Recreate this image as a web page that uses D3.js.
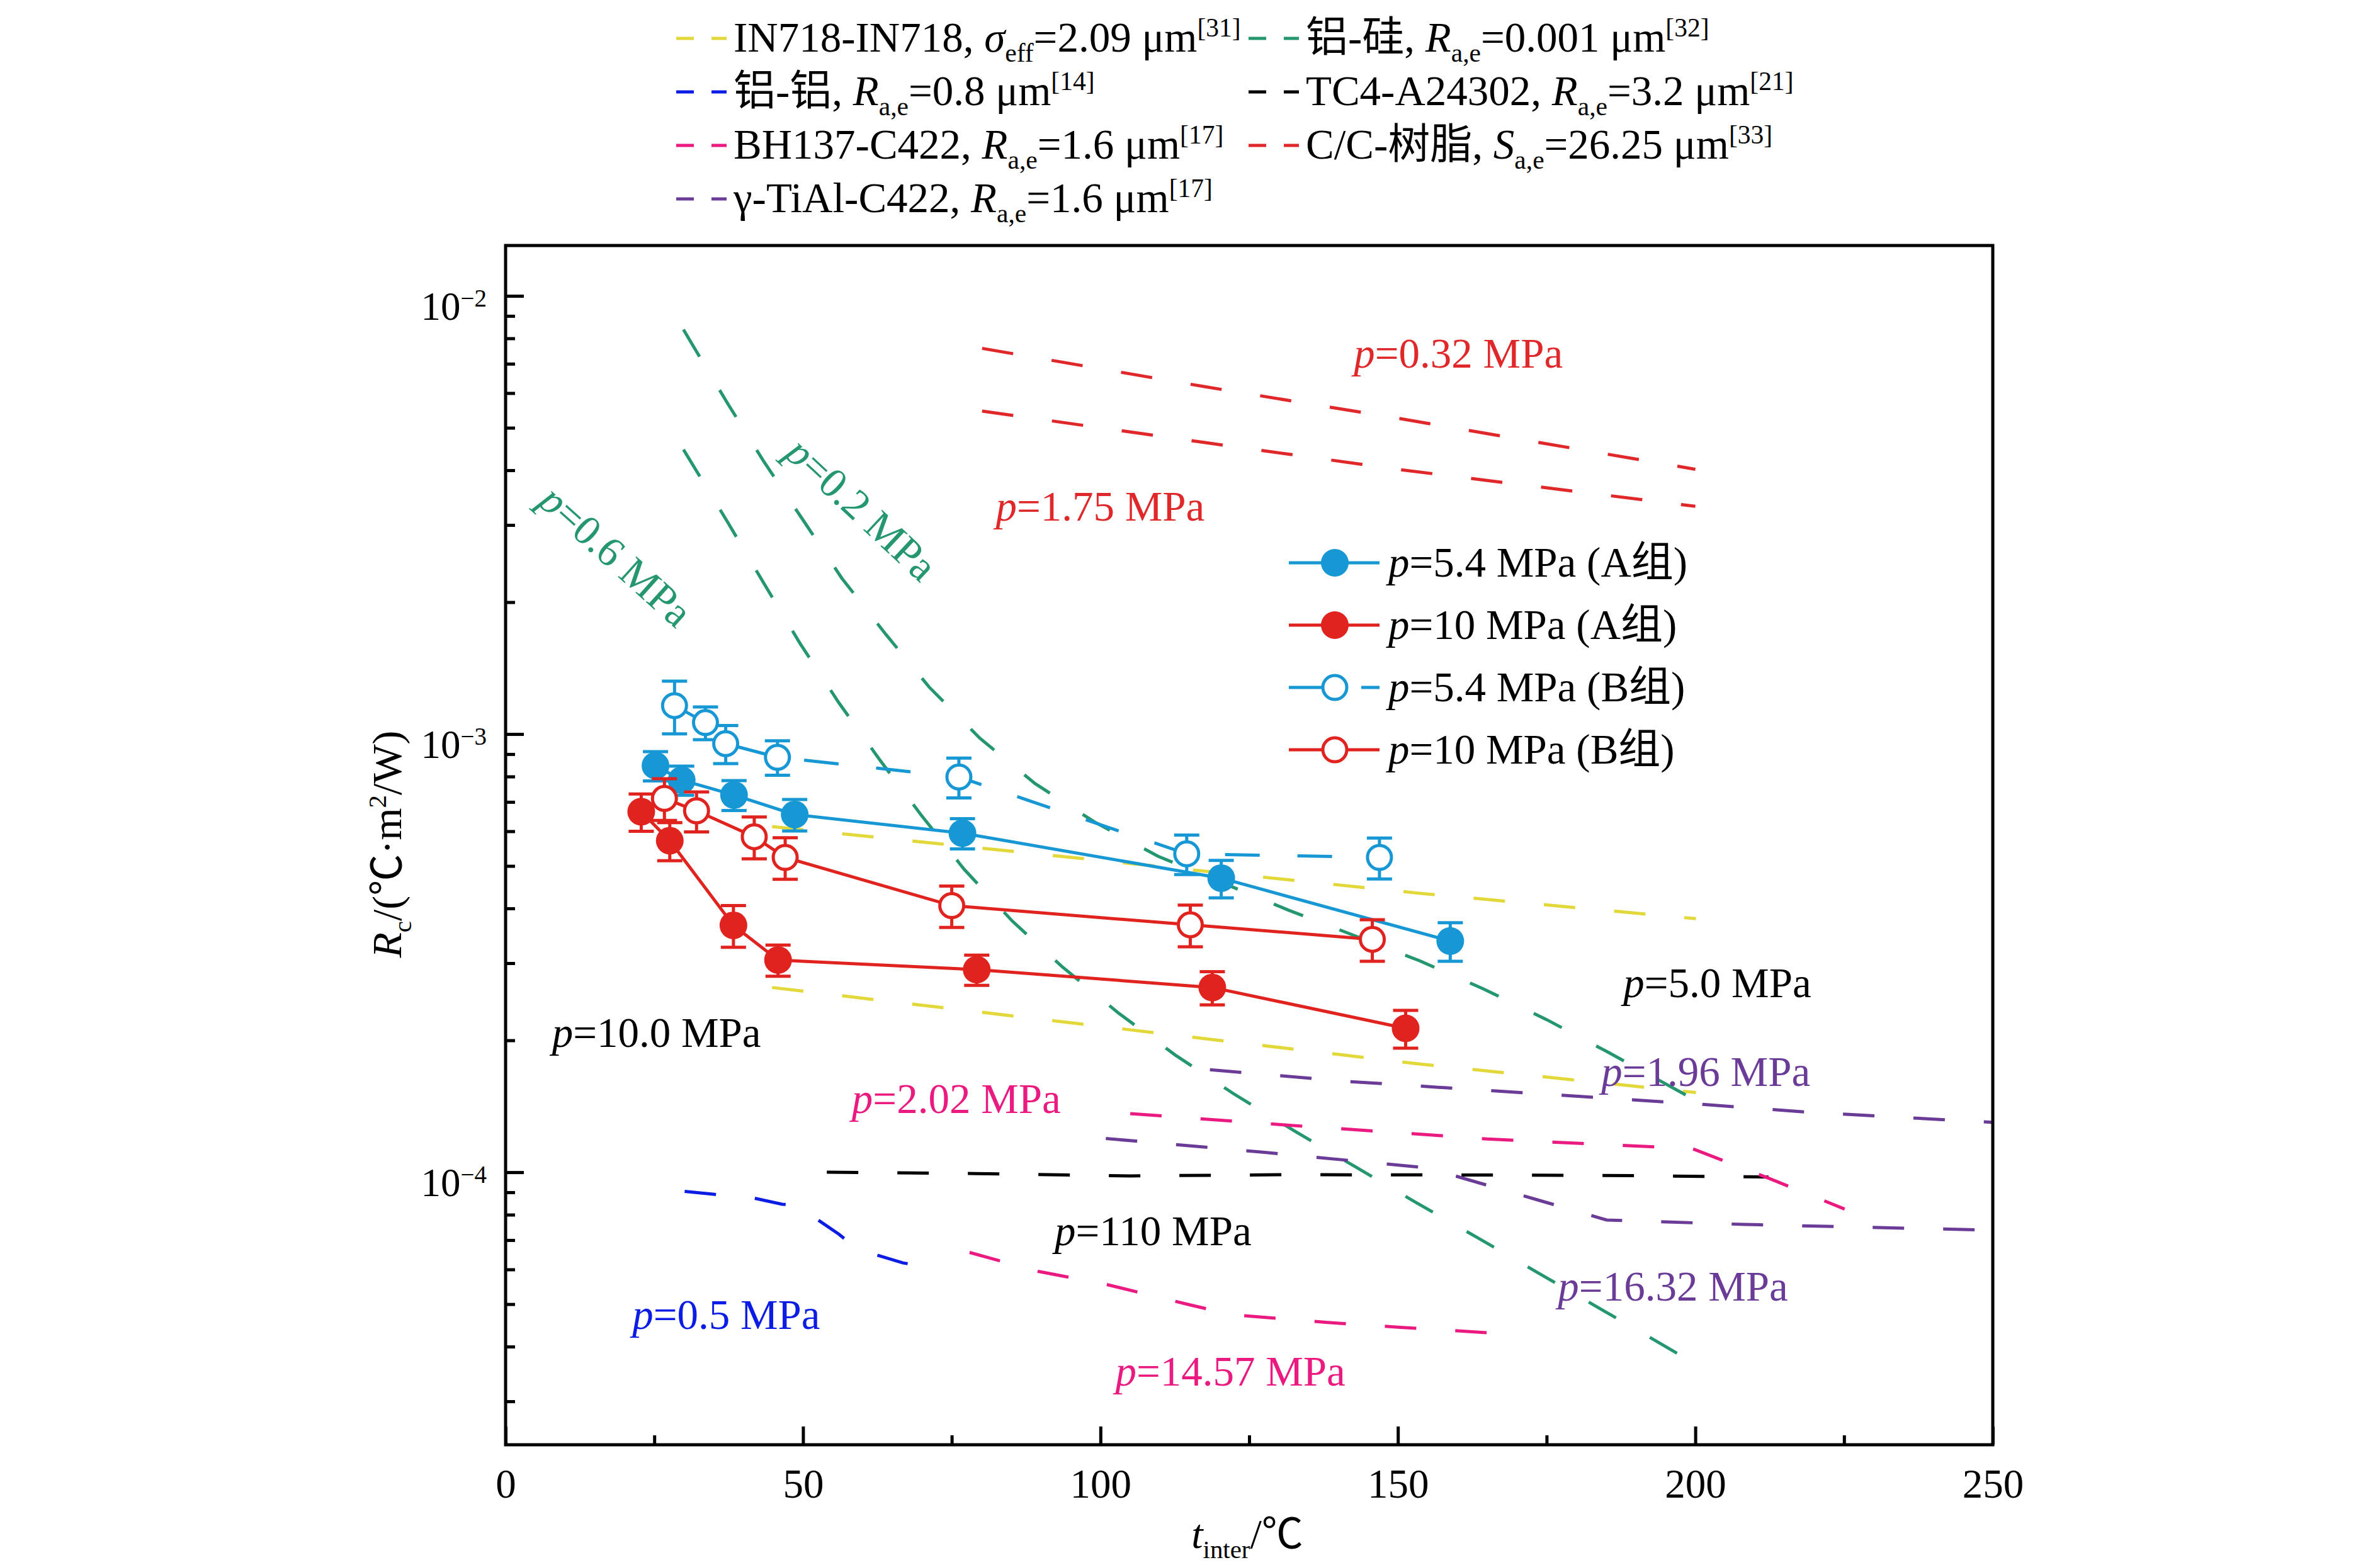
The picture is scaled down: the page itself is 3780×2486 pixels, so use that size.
<!DOCTYPE html>
<html>
<head>
<meta charset="utf-8">
<script src="https://cdn.jsdelivr.net/npm/d3@7"></script>
<style>
  html, body { margin: 0; padding: 0; background: #fff; }
  svg { display: block; font-family: "Liberation Serif", "Times New Roman", "Noto Sans CJK SC", serif; }
</style>
</head>
<body>
<svg id="chart" width="3780" height="2486"></svg>
<script>
// ---- experimental data (t_inter in degC, Rc in degC*m2/W) ----
var tA54 = [25.2, 29.6, 38.4, 48.6, 76.8, 120.3, 158.8];
var rA54 = [8.47e-4, 7.85e-4, 7.26e-4, 6.55e-4, 5.94e-4, 4.69e-4, 3.37e-4];
var eA54 = [0.65e-4, 0.60e-4, 0.57e-4, 0.54e-4, 0.47e-4, 0.46e-4, 0.34e-4];

var tA10 = [22.8, 27.6, 38.3, 45.8, 79.2, 118.8, 151.3];
var rA10 = [6.65e-4, 5.71e-4, 3.66e-4, 3.05e-4, 2.90e-4, 2.64e-4, 2.13e-4];
var eA10 = [0.65e-4, 0.57e-4, 0.40e-4, 0.25e-4, 0.23e-4, 0.23e-4, 0.21e-4];

var tB54 = [28.4, 33.6, 37.0, 45.7, 76.2, 114.5, 146.9];
var rB54 = [1.161e-3, 1.062e-3, 9.51e-4, 8.85e-4, 7.98e-4, 5.33e-4, 5.23e-4];
var eB54 = [1.60e-4, 0.91e-4, 0.95e-4, 0.80e-4, 0.83e-4, 0.55e-4, 0.56e-4];

var tB10 = [26.7, 32.1, 41.8, 47.0, 75.0, 115.1, 145.7];
var rB10 = [7.13e-4, 6.68e-4, 5.83e-4, 5.23e-4, 4.06e-4, 3.67e-4, 3.40e-4];
var eB10 = [0.78e-4, 0.70e-4, 0.64e-4, 0.57e-4, 0.44e-4, 0.40e-4, 0.37e-4];

// ---- literature curves ----
var in718T = [44.8, 153.0, 200.1];
var in718R50 = [6.15e-4, 4.34e-4, 3.79e-4];
var in718R100 = [2.64e-4, 1.77e-4, 1.52e-4];

var alsi02T = [29.9, 31.2, 37.3, 43.4, 50.0, 56.5, 63.9, 71.2, 79.7, 89.0, 99.0, 109.7, 131.5, 153.6, 164.4, 175.0, 185.3, 200.0];
var alsi02R = [8.38e-3, 7.82e-3, 5.69e-3, 4.19e-3, 3.08e-3, 2.27e-3, 1.69e-3, 1.28e-3, 9.79e-4, 7.71e-4, 6.30e-4, 5.26e-4, 3.97e-4, 3.04e-4, 2.62e-4, 2.23e-4, 1.88e-4, 1.46e-4];
var alsi06T = [29.9, 37.3, 43.4, 49.5, 56.0, 62.8, 69.8, 77.1, 85.2, 93.5, 103.0, 112.6, 122.4, 132.5, 142.8, 152.9, 163.3, 173.6, 183.9, 194.2, 200.0];
var alsi06R = [4.46e-3, 3.05e-3, 2.21e-3, 1.61e-3, 1.18e-3, 8.77e-4, 6.55e-4, 4.91e-4, 3.74e-4, 2.95e-4, 2.31e-4, 1.85e-4, 1.51e-4, 1.245e-4, 1.03e-4, 8.55e-5, 7.10e-5, 5.89e-5, 4.89e-5, 4.06e-5, 3.65e-5];

var alalT = [30.1, 34.9, 41.7, 46.5, 50.0, 52.0, 56.1, 60.1, 62.1, 66.8, 70.1];
var alalR = [9.04e-5, 8.91e-5, 8.73e-5, 8.45e-5, 8.41e-5, 7.87e-5, 7.21e-5, 6.50e-5, 6.49e-5, 6.21e-5, 6.10e-5];

var tc4T = [54.0, 79.0, 105.0, 130.0, 160.0, 190.0, 212.3];
var tc4R = [1.000e-4, 0.993e-4, 0.981e-4, 0.987e-4, 0.986e-4, 0.982e-4, 0.975e-4];

var bh202T = [105.0, 131.0, 154.6, 165.0, 199.5, 212.4, 225.1];
var bh202R = [1.361e-4, 1.282e-4, 1.219e-4, 1.191e-4, 1.132e-4, 9.68e-5, 8.24e-5];
var bh1457T = [78.0, 89.5, 100.9, 114.8, 122.0, 138.2, 150.0, 169.0];
var bh1457R = [6.56e-5, 5.94e-5, 5.55e-5, 4.99e-5, 4.73e-5, 4.54e-5, 4.43e-5, 4.27e-5];

var cc032T = [80.1, 117.4, 149.9, 200.0];
var cc032R = [7.59e-3, 6.21e-3, 5.26e-3, 4.02e-3];
var cc175T = [80.1, 117.4, 149.9, 200.0];
var cc175R = [5.46e-3, 4.63e-3, 4.02e-3, 3.31e-3];

var ti196T = [118.4, 141.7, 200.0, 220.0, 249.8];
var ti196R = [1.714e-4, 1.611e-4, 1.432e-4, 1.368e-4, 1.300e-4];
var ti1632T = [100.9, 127.0, 155.0, 173.2, 185.1, 208.3, 249.0];
var ti1632R = [1.194e-4, 1.112e-4, 1.023e-4, 8.67e-5, 7.78e-5, 7.60e-5, 7.38e-5];

var xMajor = [0, 50, 100, 150, 200, 250];
var xMinor = [25, 75, 125, 175, 225];
var yMajor = [1e-2, 1e-3, 1e-4];

// ---- colours ----
var EXP_BLUE = "#1798d5", EXP_RED = "#e0231e";
var YELLOW = "#e2d83a", GREEN = "#25976f", AL_BLUE = "#0b1de4", MAGENTA = "#eb1a80", CC_RED = "#e0282b", PURPLE = "#6a3b97";

var FS = 67; // annotation / legend text size

var svg = d3.select("#chart");
var x = d3.scaleLinear().domain([0, 250]).range([803, 3165]);
var y = d3.scaleLog().domain([2.388e-5, 1.303e-2]).range([2295, 390]);

svg.append("defs").append("clipPath").attr("id", "clip")
  .append("rect").attr("x", 803).attr("y", 390).attr("width", 3165 - 803).attr("height", 2295 - 390);

function rich(sel, parts, size) {
  var shift = 0;
  parts.forEach(function(p) {
    var target = 0, fs = size;
    if (p.sub) { target = size * 0.24; fs = size * 0.62; }
    if (p.sup) { target = -size * 0.36; fs = size * 0.62; }
    var ts = sel.append("tspan").text(p.t).attr("font-size", fs);
    if (target - shift !== 0) ts.attr("dy", target - shift);
    if (p.i) ts.attr("font-style", "italic");
    shift = target;
  });
}

var line = d3.line().x(function(d) { return x(d[0]); }).y(function(d) { return y(d[1]); });
var plot = svg.append("g").attr("clip-path", "url(#clip)");

var litLines = [
  { t: in718T, r: in718R50, color: YELLOW },
  { t: in718T, r: in718R100, color: YELLOW },
  { t: alsi02T, r: alsi02R, color: GREEN },
  { t: alsi06T, r: alsi06R, color: GREEN },
  { t: alalT, r: alalR, color: AL_BLUE },
  { t: tc4T, r: tc4R, color: "#000" },
  { t: bh202T, r: bh202R, color: MAGENTA },
  { t: bh1457T, r: bh1457R, color: MAGENTA },
  { t: cc032T, r: cc032R, color: CC_RED },
  { t: cc175T, r: cc175R, color: CC_RED },
  { t: ti196T, r: ti196R, color: PURPLE },
  { t: ti1632T, r: ti1632R, color: PURPLE }
];
litLines.forEach(function(s) {
  plot.append("path").datum(d3.zip(s.t, s.r)).attr("d", line)
    .attr("fill", "none").attr("stroke", s.color).attr("stroke-width", 5)
    .attr("stroke-dasharray", "50,62");
});

var groups = [
  { t: tA54, r: rA54, e: eA54, color: EXP_BLUE, filled: true, dash: null, label: "=5.4 MPa (A组)" },
  { t: tA10, r: rA10, e: eA10, color: EXP_RED, filled: true, dash: null, label: "=10 MPa (A组)" },
  { t: tB54, r: rB54, e: eB54, color: EXP_BLUE, filled: false, dash: "55,60", label: "=5.4 MPa (B组)" },
  { t: tB10, r: rB10, e: eB10, color: EXP_RED, filled: false, dash: null, label: "=10 MPa (B组)" }
];

function marker(g, cx, cy, grp) {
  if (grp.filled) {
    g.append("circle").attr("cx", cx).attr("cy", cy).attr("r", 22).attr("fill", grp.color);
  } else {
    g.append("circle").attr("cx", cx).attr("cy", cy).attr("r", 19)
      .attr("fill", "#fff").attr("stroke", grp.color).attr("stroke-width", 5);
  }
}

groups.forEach(function(grp) {
  var pts = d3.zip(grp.t, grp.r, grp.e);
  var g = plot.append("g");
  g.append("path").datum(pts).attr("d", line).attr("fill", "none")
    .attr("stroke", grp.color).attr("stroke-width", 5)
    .attr("stroke-dasharray", grp.dash);
  pts.forEach(function(d) {
    var cx = x(d[0]), y0 = y(d[1] - d[2]), y1 = y(d[1] + d[2]);
    g.append("line").attr("x1", cx).attr("x2", cx).attr("y1", y0).attr("y2", y1)
      .attr("stroke", grp.color).attr("stroke-width", 5);
    [y0, y1].forEach(function(yy) {
      g.append("line").attr("x1", cx - 20).attr("x2", cx + 20).attr("y1", yy).attr("y2", yy)
        .attr("stroke", grp.color).attr("stroke-width", 5);
    });
  });
  pts.forEach(function(d) { marker(g, x(d[0]), y(d[1]), grp); });
});

// ---- axes ----
function styleAxis(g, size) {
  g.attr("font-family", null).attr("font-size", size);
  g.select(".domain").remove();
  g.selectAll(".tick line").attr("stroke", "#000").attr("stroke-width", 5);
  g.selectAll(".tick text").attr("fill", "#000");
}

var gx = svg.append("g").attr("transform", "translate(0,2295)")
  .call(d3.axisBottom(x).tickValues(xMajor).tickSize(-29).tickPadding(38).tickFormat(d3.format("d")));
styleAxis(gx, 65);
var gxm = svg.append("g").attr("transform", "translate(0,2295)")
  .call(d3.axisBottom(x).tickValues(xMinor).tickSize(-15).tickFormat(""));
styleAxis(gxm, 65);

var yMinor = [];
[-5, -4, -3, -2].forEach(function(e) {
  for (var k = 2; k <= 9; k++) {
    var v = k * Math.pow(10, e);
    if (v > y.domain()[0] && v < y.domain()[1]) yMinor.push(v);
  }
});
var gy = svg.append("g").attr("transform", "translate(803,0)")
  .call(d3.axisLeft(y).tickValues(yMajor).tickSize(-29).tickPadding(30).tickFormat(function() { return ""; }));
styleAxis(gy, 63);
gy.selectAll(".tick text").attr("dy", 37).each(function(d) {
  var t = d3.select(this);
  t.append("tspan").text("10");
  t.append("tspan").attr("dy", -21).attr("font-size", 39).text("\u2212" + Math.round(-Math.log10(d)));
});
var gym = svg.append("g").attr("transform", "translate(803,0)")
  .call(d3.axisLeft(y).tickValues(yMinor).tickSize(-15).tickFormat(""));
styleAxis(gym, 63);

svg.append("rect").attr("x", 803).attr("y", 390).attr("width", 3165 - 803).attr("height", 2295 - 390)
  .attr("fill", "none").attr("stroke", "#000").attr("stroke-width", 5);

// axis titles
var xt = svg.append("text").attr("x", 1981).attr("y", 2459).attr("text-anchor", "middle").attr("font-size", 66);
rich(xt, [{ t: "t", i: 1 }, { t: "inter", sub: 1 }, { t: "/℃" }], 66);
var yt = svg.append("text").attr("transform", "translate(637,1341) rotate(-90)")
  .attr("text-anchor", "middle").attr("font-size", 66);
rich(yt, [{ t: "R", i: 1 }, { t: "c", sub: 1 }, { t: "/(℃·m" }, { t: "2", sup: 1 }, { t: "/W)" }], 66);

// ---- curve annotations ----
var notes = [
  { s: "=0.32 MPa", t: 142.6, r: 6.86e-3, color: CC_RED },
  { s: "=1.75 MPa", t: 82.4, r: 3.07e-3, color: CC_RED },
  { s: "=0.6 MPa", t: 18.6, r: 2.556e-3, color: GREEN, rot: 42 },
  { s: "=0.2 MPa", t: 59.9, r: 3.27e-3, color: GREEN, rot: 43 },
  { s: "=5.0 MPa", t: 187.9, r: 2.508e-4, color: "#000" },
  { s: "=10.0 MPa", t: 7.8, r: 1.934e-4, color: "#000" },
  { s: "=1.96 MPa", t: 184.2, r: 1.576e-4, color: PURPLE },
  { s: "=2.02 MPa", t: 58.2, r: 1.366e-4, color: MAGENTA },
  { s: "=110 MPa", t: 92.3, r: 6.81e-5, color: "#000" },
  { s: "=0.5 MPa", t: 21.3, r: 4.39e-5, color: AL_BLUE },
  { s: "=14.57 MPa", t: 102.5, r: 3.26e-5, color: MAGENTA },
  { s: "=16.32 MPa", t: 176.9, r: 5.09e-5, color: PURPLE }
];
notes.forEach(function(n) {
  var tx = svg.append("text").attr("fill", n.color).attr("font-size", FS);
  if (n.rot) {
    tx.attr("transform", "translate(" + x(n.t) + "," + y(n.r) + ") rotate(" + n.rot + ")")
      .attr("text-anchor", "middle").attr("dy", "0.35em");
  } else {
    tx.attr("x", x(n.t)).attr("y", y(n.r));
  }
  rich(tx, [{ t: "p", i: 1 }, { t: n.s }], FS);
});

// ---- inner legend ----
var legRows = [894, 993, 1092, 1191];
groups.forEach(function(grp, i) {
  var g = svg.append("g");
  var ly = legRows[i];
  g.append("line").attr("x1", 2047).attr("x2", 2191).attr("y1", ly).attr("y2", ly)
    .attr("stroke", grp.color).attr("stroke-width", 5).attr("stroke-dasharray", grp.dash);
  marker(g, 2120, ly, grp);
  var tx = g.append("text").attr("x", 2205).attr("y", ly + 22).attr("font-size", FS).attr("fill", "#000");
  rich(tx, [{ t: "p", i: 1 }, { t: grp.label }], FS);
});

// ---- top legend ----
var topLeg = [
  { col: 0, row: 0, color: YELLOW, parts: [{ t: "IN718-IN718, " }, { t: "σ", i: 1 }, { t: "eff", sub: 1 }, { t: "=2.09 μm" }, { t: "[31]", sup: 1 }] },
  { col: 1, row: 0, color: GREEN, parts: [{ t: "铝-硅, " }, { t: "R", i: 1 }, { t: "a,e", sub: 1 }, { t: "=0.001 μm" }, { t: "[32]", sup: 1 }] },
  { col: 0, row: 1, color: AL_BLUE, parts: [{ t: "铝-铝, " }, { t: "R", i: 1 }, { t: "a,e", sub: 1 }, { t: "=0.8 μm" }, { t: "[14]", sup: 1 }] },
  { col: 1, row: 1, color: "#000", parts: [{ t: "TC4-A24302, " }, { t: "R", i: 1 }, { t: "a,e", sub: 1 }, { t: "=3.2 μm" }, { t: "[21]", sup: 1 }] },
  { col: 0, row: 2, color: MAGENTA, parts: [{ t: "BH137-C422, " }, { t: "R", i: 1 }, { t: "a,e", sub: 1 }, { t: "=1.6 μm" }, { t: "[17]", sup: 1 }] },
  { col: 1, row: 2, color: CC_RED, parts: [{ t: "C/C-树脂, " }, { t: "S", i: 1 }, { t: "a,e", sub: 1 }, { t: "=26.25 μm" }, { t: "[33]", sup: 1 }] },
  { col: 0, row: 3, color: PURPLE, parts: [{ t: "γ-TiAl-C422, " }, { t: "R", i: 1 }, { t: "a,e", sub: 1 }, { t: "=1.6 μm" }, { t: "[17]", sup: 1 }] }
];
var topRowsY = [82, 167, 252, 337];
var topColX = [1074, 1983];
topLeg.forEach(function(l) {
  var x0 = topColX[l.col], by = topRowsY[l.row];
  svg.append("line").attr("x1", x0).attr("x2", x0 + 80).attr("y1", by - 21).attr("y2", by - 21)
    .attr("stroke", l.color).attr("stroke-width", 5).attr("stroke-dasharray", "28,28");
  var tx = svg.append("text").attr("x", x0 + 91).attr("y", by).attr("font-size", FS).attr("fill", "#000");
  rich(tx, l.parts, FS);
});
</script>
</body>
</html>
